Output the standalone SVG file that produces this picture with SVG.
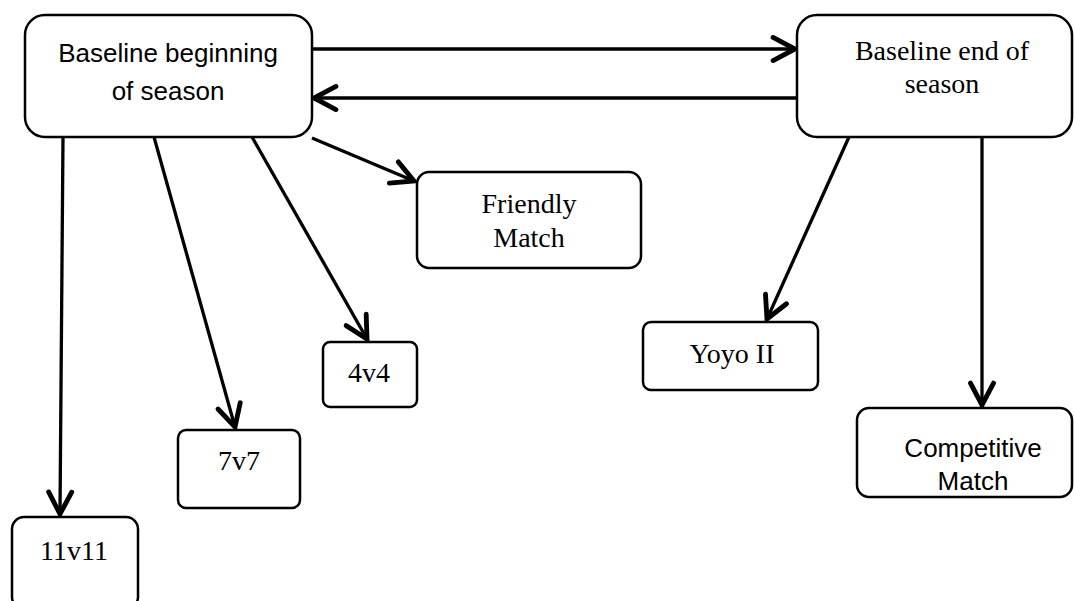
<svg xmlns="http://www.w3.org/2000/svg" width="1074" height="601" viewBox="0 0 1074 601">
<style>
.box{fill:#fff;stroke:#000;stroke-width:2.5}
.conn{stroke:#000;stroke-width:3.3;fill:none;marker-end:url(#arr)}
.sans{font-family:"Liberation Sans",Arial,sans-serif;font-size:26px;fill:#000;text-anchor:middle}
.serif{font-family:"Liberation Serif","Times New Roman",serif;font-size:28px;fill:#000;text-anchor:middle}
</style>
<defs>
<marker id="arr" markerUnits="userSpaceOnUse" markerWidth="30" markerHeight="30" viewBox="-22 -12 26 24" refX="0" refY="0" orient="auto" overflow="visible">
<path d="M-19,-10 L0,0 L-19,10" fill="none" stroke="#000" stroke-width="4.2" stroke-linecap="round" stroke-linejoin="miter"/>
</marker>
</defs>
<rect width="1074" height="601" fill="#fff"/>
<g id="connectors">
<line class="conn" x1="312" y1="49" x2="795" y2="49"/>
<line class="conn" x1="797" y1="98" x2="314" y2="98"/>
<line class="conn" x1="63" y1="137" x2="60" y2="514"/>
<line class="conn" x1="154" y1="137" x2="235" y2="427"/>
<line class="conn" x1="252" y1="137" x2="367" y2="339"/>
<line class="conn" x1="312" y1="138" x2="414" y2="181"/>
<line class="conn" x1="849" y1="137" x2="767" y2="319"/>
<line class="conn" x1="982" y1="137" x2="982" y2="405"/>
</g>
<g id="n-begin">
<rect class="box" x="25" y="15" width="287" height="122" rx="20"/>
<text class="sans" x="168" y="62">Baseline beginning</text>
<text class="sans" x="168" y="100">of season</text>
</g>
<g id="n-end">
<rect class="box" x="797" y="15" width="275" height="122" rx="20"/>
<text class="serif" x="942" y="60">Baseline end of</text>
<text class="serif" x="942" y="93">season</text>
</g>
<g id="n-friendly">
<rect class="box" x="417" y="172" width="224" height="96" rx="12"/>
<text class="serif" x="529" y="213">Friendly</text>
<text class="serif" x="529" y="247">Match</text>
</g>
<g id="n-yoyo">
<rect class="box" x="643" y="322" width="175" height="68" rx="8"/>
<text class="serif" x="732" y="363">Yoyo II</text>
</g>
<g id="n-competitive">
<rect class="box" x="857" y="408" width="215" height="89" rx="12"/>
<text class="sans" x="973" y="457">Competitive</text>
<text class="sans" x="973" y="490">Match</text>
</g>
<g id="n-4v4">
<rect class="box" x="323" y="342" width="94" height="65" rx="7"/>
<text class="serif" x="369" y="382">4v4</text>
</g>
<g id="n-7v7">
<rect class="box" x="178" y="430" width="122" height="78" rx="8"/>
<text class="serif" x="239" y="470">7v7</text>
</g>
<g id="n-11v11">
<rect class="box" x="12" y="517" width="126" height="92" rx="12"/>
<text class="serif" x="74" y="560">11v11</text>
</g>
</svg>
